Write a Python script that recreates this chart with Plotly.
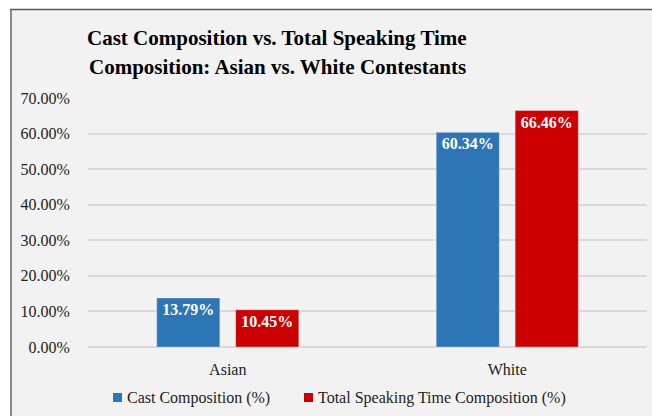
import plotly.graph_objects as go

# Chart data
categories = ["Asian", "White"]
series_names = ["Cast Composition (%)", "Total Speaking Time Composition (%)"]
cast_pct = [13.79, 60.34]
speaking_pct = [10.45, 66.46]
y_ticks = [0, 10, 20, 30, 40, 50, 60, 70]

W, H = 652, 416
M_L, M_R, M_T, M_B = 88, 5, 98, 69
BLUE = "#2e75b6"
RED = "#cc0000"
BG = "#f2f2f2"
SERIF = "Liberation Serif, Times New Roman, serif"

pw = W - M_L - M_R
ph = H - M_T - M_B


def px_x(x):
    return (x - M_L) / pw


def px_y(y):
    return (H - M_B - y) / ph


fig = go.Figure()
for name, vals, color in [(series_names[0], cast_pct, BLUE),
                          (series_names[1], speaking_pct, RED)]:
    fig.add_trace(go.Bar(
        x=categories, y=vals, name=name,
        marker=dict(color=color, line=dict(color="rgba(255,255,255,0.35)", width=1)),
        texttemplate="<b>%{y:.2f}%</b>", textposition="inside",
        insidetextanchor="end", textangle=0, constraintext="none",
        textfont=dict(family=SERIF, size=16, color="white"),
        showlegend=False,
    ))

shapes = [
    # white strips along the top and left edges with the dark frame lines
    dict(type="rect", xref="paper", yref="paper", x0=px_x(0), x1=px_x(W),
         y0=px_y(9), y1=px_y(0), fillcolor="white", line_width=0, layer="below"),
    dict(type="rect", xref="paper", yref="paper", x0=px_x(0), x1=px_x(10),
         y0=px_y(H), y1=px_y(0), fillcolor="white", line_width=0, layer="below"),
    dict(type="line", xref="paper", yref="paper", x0=px_x(10), x1=px_x(W),
         y0=px_y(9.5), y1=px_y(9.5), line=dict(color="#555555", width=1.5)),
    dict(type="line", xref="paper", yref="paper", x0=px_x(11), x1=px_x(11),
         y0=px_y(H), y1=px_y(9), line=dict(color="#666666", width=1.5)),
]

annotations = []
# Title, one annotation per line
title_lines = ["Cast Composition vs. Total Speaking Time",
               "Composition: Asian vs. White Contestants"]
for line, cy in zip(title_lines, [38, 67]):
    annotations.append(dict(text=f"<b>{line}</b>", xref="paper", yref="paper",
                            x=px_x(277), y=px_y(cy), xanchor="center", yanchor="middle",
                            showarrow=False, font=dict(family=SERIF, size=21, color="black")))

legend_items = [(series_names[0], BLUE, 113), (series_names[1], RED, 304)]
for name, color, lx in legend_items:
    shapes.append(dict(type="rect", xref="paper", yref="paper",
                       x0=px_x(lx), x1=px_x(lx + 9), y0=px_y(402), y1=px_y(393),
                       fillcolor=color, line_width=0))
    annotations.append(dict(text=name, xref="paper", yref="paper",
                            x=px_x(lx + 12), y=px_y(397.5), xanchor="left", yanchor="middle",
                            showarrow=False, font=dict(family=SERIF, size=16, color="#222222")))

fig.update_layout(
    width=W, height=H,
    margin=dict(l=M_L, r=M_R, t=M_T, b=M_B, pad=0),
    paper_bgcolor=BG, plot_bgcolor=BG,
    barmode="group", bargap=0.435, bargroupgap=0.2,
    font=dict(family=SERIF, size=16, color="#222222"),
    xaxis=dict(showgrid=False, showline=False, zeroline=False,
               ticks="outside", ticklen=8, tickcolor="rgba(0,0,0,0)",
               tickfont=dict(family=SERIF, size=16, color="#222222")),
    yaxis=dict(range=[0, 70], tickvals=y_ticks,
               ticktext=[f"{v:.2f}%" for v in y_ticks],
               showgrid=True, gridcolor="#d9d9d9", gridwidth=1.5,
               zeroline=True, zerolinecolor="#d9d9d9", zerolinewidth=1.5,
               showline=False, ticks="outside", ticklen=14, tickcolor="rgba(0,0,0,0)",
               tickfont=dict(family=SERIF, size=16, color="#222222")),
    shapes=shapes,
    annotations=annotations,
)

fig.write_html("out.html")
